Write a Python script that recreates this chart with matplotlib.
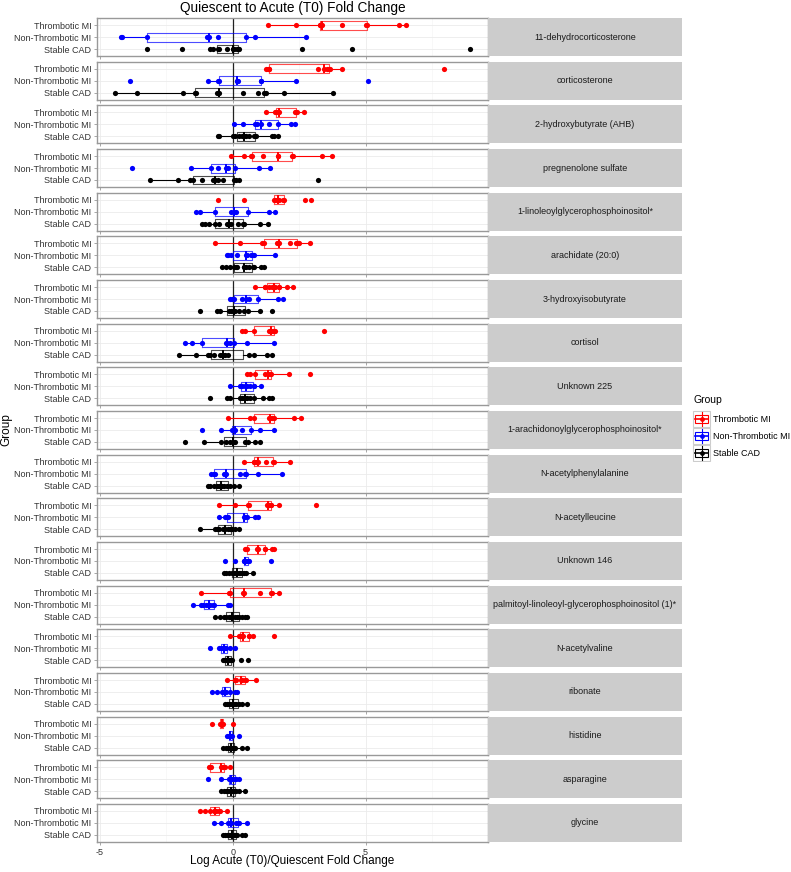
import matplotlib
matplotlib.use("Agg")
import matplotlib.pyplot as plt
from matplotlib.patches import Rectangle

plt.rcParams['font.family'] = ['Liberation Sans', 'DejaVu Sans']

groups = ["Thrombotic MI", "Non-Thrombotic MI", "Stable CAD"]
group_colors = ["#FF0000", "#0000FF", "#000000"]

metabolites = [
    "11-dehydrocorticosterone", "corticosterone", "2-hydroxybutyrate (AHB)",
    "pregnenolone sulfate", "1-linoleoylglycerophosphoinositol*",
    "arachidate (20:0)", "3-hydroxyisobutyrate", "cortisol", "Unknown 225",
    "1-arachidonoylglycerophosphoinositol*", "N-acetylphenylalanine",
    "N-acetylleucine", "Unknown 146",
    "palmitoyl-linoleoyl-glycerophosphoinositol (1)*", "N-acetylvaline",
    "ribonate", "histidine", "asparagine", "glycine",
]

# log fold change values, one list per metabolite
thrombotic = [
    [1.33, 2.38, 3.28, 3.3, 3.34, 3.36, 4.1, 5.03, 5.06, 6.26, 6.5],
    [1.24, 1.33, 1.35, 1.38, 3.21, 3.44, 3.54, 3.62, 3.66, 4.1, 7.94],
    [1.25, 1.6, 1.64, 1.7, 1.73, 2.35, 2.39, 2.42, 2.7],
    [-0.05, 0.41, 0.7, 0.72, 1.14, 1.7, 1.72, 2.22, 2.25, 3.35, 3.74],
    [-0.55, 0.44, 1.56, 1.6, 1.66, 1.73, 1.91, 1.94, 2.73, 2.95],
    [-0.68, 0.28, 1.1, 1.19, 1.66, 1.72, 1.75, 2.15, 2.4, 2.45, 2.51, 2.9],
    [0.83, 1.2, 1.23, 1.35, 1.48, 1.54, 1.61, 1.73, 1.76, 2.06, 2.26],
    [0.36, 0.48, 0.81, 1.35, 1.44, 1.51, 1.56, 1.6, 3.44],
    [0.55, 0.64, 0.85, 1.23, 1.33, 1.39, 1.44, 2.1, 2.91],
    [-0.19, 0.66, 0.79, 1.35, 1.41, 1.48, 1.56, 2.29, 2.58],
    [0.41, 0.79, 0.81, 0.88, 0.94, 1.26, 1.52, 1.54, 2.16],
    [-0.53, 0.1, 0.58, 0.62, 1.29, 1.35, 1.44, 1.46, 1.73, 3.13],
    [0.48, 0.5, 0.54, 0.93, 0.95, 1.2, 1.23, 1.48, 1.56],
    [-1.18, -0.15, -0.09, 0.38, 0.41, 1.04, 1.46, 1.48, 1.73],
    [-0.09, 0.25, 0.29, 0.31, 0.38, 0.6, 0.63, 0.76, 1.56],
    [-0.21, 0.08, 0.1, 0.13, 0.31, 0.35, 0.48, 0.5, 0.89],
    [-0.76, -0.46, -0.4, -0.36, 0.0],
    [-0.9, -0.85, -0.82, -0.43, -0.36, -0.28, -0.09],
    [-1.21, -1.03, -0.84, -0.71, -0.68, -0.63, -0.53, -0.46, -0.21],
]

non_thrombotic = [
    [-4.2, -4.15, -3.21, -0.95, -0.9, -0.54, 0.5, 0.84, 2.74],
    [-3.85, -0.91, -0.55, -0.51, 0.15, 0.18, 0.2, 1.05, 1.08, 2.38, 5.09],
    [0.06, 0.39, 0.85, 0.9, 1.06, 1.35, 1.69, 2.2, 2.35],
    [-3.78, -1.56, -0.81, -0.56, -0.25, -0.19, 0.1, 1.0, 1.41],
    [-1.36, -1.23, -0.68, -0.05, 0.04, 0.13, 0.56, 1.38, 1.6],
    [-0.21, -0.16, -0.05, 0.16, 0.49, 0.55, 0.69, 0.75, 0.79, 1.61],
    [-0.09, -0.03, 0.04, 0.36, 0.49, 0.63, 0.94, 1.7, 1.89],
    [-1.8, -1.51, -1.16, -0.26, -0.21, -0.09, 0.04, 0.53, 1.54],
    [-0.11, 0.29, 0.31, 0.36, 0.45, 0.55, 0.66, 0.79, 0.81, 1.06],
    [-1.15, -0.44, -0.03, 0.04, 0.1, 0.35, 0.69, 1.04, 1.56],
    [-0.8, -0.72, -0.7, -0.68, -0.31, -0.28, -0.25, 0.26, 0.48, 0.5, 0.95, 1.85],
    [-0.53, -0.28, -0.21, -0.18, 0.41, 0.48, 0.54, 0.85, 0.95],
    [-0.28, 0.08, 0.41, 0.43, 0.48, 0.51, 0.56, 0.6, 1.45],
    [-1.5, -1.18, -1.11, -1.0, -0.94, -0.86, -0.75, -0.71, -0.19, -0.09],
    [-0.86, -0.53, -0.43, -0.36, -0.3, -0.24, -0.09, 0.08],
    [-0.78, -0.59, -0.4, -0.36, -0.28, -0.24, -0.09, 0.1, 0.16],
    [-0.21, -0.15, -0.11, -0.06, -0.03, 0.25],
    [-0.94, -0.44, -0.15, -0.09, -0.05, 0.0, 0.08, 0.14, 0.23],
    [-0.69, -0.44, -0.18, -0.15, -0.11, -0.05, 0.13, 0.2, 0.25, 0.54],
]

stable_cad = [
    [-3.23, -1.89, -0.86, -0.75, -0.55, -0.5, -0.2, 0.0, 0.02, 0.04, 0.18, 0.2, 0.25, 2.59, 4.49, 8.94],
    [-4.43, -3.61, -1.86, -1.41, -1.375, -0.575, -0.525, 0.39, 0.95, 1.19, 1.25, 1.93, 3.79],
    [-0.56, -0.5, 0.0, 0.1, 0.25, 0.35, 0.42, 0.44, 0.5, 0.62, 0.82, 0.89, 1.48, 1.56, 1.7],
    [-3.1, -2.04, -1.6, -1.49, -1.14, -0.75, -0.65, -0.56, -0.36, 0.05, 0.14, 0.24, 3.19],
    [-1.15, -1.03, -0.9, -0.68, -0.53, -0.21, -0.13, -0.05, 0.19, 0.38, 0.42, 1.01, 1.33],
    [-0.4, -0.26, -0.11, 0.04, 0.13, 0.15, 0.41, 0.44, 0.5, 0.6, 0.75, 0.79, 1.08, 1.16],
    [-1.24, -0.59, -0.46, -0.12, -0.06, 0.0, 0.08, 0.24, 0.41, 0.56, 1.04, 1.48],
    [-2.0, -1.38, -0.94, -0.84, -0.71, -0.46, -0.4, -0.36, -0.28, -0.19, 0.6, 0.81, 1.29, 1.48],
    [-0.86, -0.21, -0.11, 0.29, 0.35, 0.41, 0.48, 0.54, 0.66, 0.79, 1.13, 1.35, 1.48],
    [-1.78, -1.08, -0.43, -0.24, -0.09, 0.0, 0.1, 0.48, 0.56, 0.84, 1.04],
    [-0.93, -0.84, -0.71, -0.59, -0.53, -0.46, -0.4, -0.31, -0.21, -0.09, 0.04, 0.25],
    [-1.24, -0.68, -0.59, -0.5, -0.36, -0.28, -0.19, -0.11, -0.03, 0.1, 0.25],
    [-0.34, -0.25, -0.15, -0.03, 0.04, 0.1, 0.16, 0.23, 0.29, 0.35, 0.44, 0.5, 0.76],
    [-0.65, -0.46, -0.34, -0.25, -0.15, -0.09, -0.03, 0.1, 0.16, 0.23, 0.35, 0.45, 0.54],
    [-0.36, -0.31, -0.28, -0.24, -0.19, -0.15, -0.09, -0.03, 0.31, 0.56],
    [-0.28, -0.21, -0.15, -0.09, -0.03, 0.01, 0.08, 0.14, 0.23, 0.35, 0.54],
    [-0.36, -0.25, -0.19, -0.15, -0.11, -0.08, -0.05, 0.0, 0.04, 0.1, 0.35, 0.54],
    [-0.44, -0.34, -0.25, -0.18, -0.11, -0.06, -0.03, 0.01, 0.06, 0.13, 0.23, 0.48],
    [-0.36, -0.28, -0.21, -0.15, -0.1, -0.05, -0.03, 0.04, 0.1, 0.16, 0.35, 0.48],
]

W, H = 791, 872
fig = plt.figure(figsize=(W / 100, H / 100), dpi=100)

# layout in pixels
x0, x1, x2 = 97, 488, 682
top, bottom, gap = 18, 842, 5.5
n = len(metabolites)
ph = (bottom - top - gap * (n - 1)) / n
text_col = "#333333"
border = "#999999"

for i, name in enumerate(metabolites):
    yt = top + i * (ph + gap)
    ax = fig.add_axes([x0 / W, 1 - (yt + ph) / H, (x1 - x0) / W, ph / H])
    ax.set_xlim(-5.1, 9.6)
    ax.set_ylim(0.4, 3.6)
    ax.set_xticks([-5, 0, 5])
    ax.set_xticks([-2.5, 2.5, 7.5], minor=True)
    ax.set_yticks([3, 2, 1])
    ax.set_yticklabels(groups)
    ax.grid(True, which="major", color="#EBEBEB", lw=0.6)
    ax.grid(True, which="minor", axis="x", color="#F5F5F5", lw=0.5)
    ax.set_axisbelow(True)
    ax.axvline(0, color="#222222", lw=0.9, zorder=1)
    for s in ax.spines.values():
        s.set_color(border)
        s.set_linewidth(1.0)
    ax.tick_params(axis="both", which="major", length=2.5, width=0.6,
                   color=border, labelsize=6.5, labelcolor=text_col, pad=1.5)
    ax.tick_params(axis="both", which="minor", length=0)
    if i < n - 1:
        ax.tick_params(axis="x", labelbottom=False)
    else:
        ax.set_xticklabels(["-5", "0", "5"])

    series = [thrombotic[i], non_thrombotic[i], stable_cad[i]]
    for vals, pos, col in zip(series, [3, 2, 1], group_colors):
        ax.boxplot([vals], positions=[pos], orientation="horizontal", widths=0.75,
                   showfliers=False, showcaps=False, whis=1.5, manage_ticks=False,
                   boxprops=dict(color=col, lw=0.8, alpha=0.7),
                   whiskerprops=dict(color=col, lw=0.8),
                   medianprops=dict(color=col, lw=1.4))
        ax.scatter(vals, [pos] * len(vals), s=14, color=col, zorder=3, linewidths=0)

    sax = fig.add_axes([x1 / W, 1 - (yt + ph) / H, (x2 - x1) / W, ph / H])
    sax.set_facecolor("#CCCCCC")
    sax.set_xticks([])
    sax.set_yticks([])
    for s in sax.spines.values():
        s.set_visible(False)
    sax.text(0.5, 0.5, name, ha="center", va="center", fontsize=6.5, color="#1A1A1A")

fig.text((x0 + x1) / 2 / W, 1 - 8 / H, "Quiescent to Acute (T0) Fold Change",
         ha="center", va="center", fontsize=9.8, color="#000000")
fig.text((x0 + x1) / 2 / W, 1 - 861 / H, "Log Acute (T0)/Quiescent Fold Change",
         ha="center", va="center", fontsize=8.5, color="#000000")
fig.text(6 / W, 1 - 430 / H, "Group", ha="center", va="center", rotation=90,
         fontsize=8.5, color="#000000")

# legend drawn in its own small axes
lx, ly, lw_, lh = 690, 392, 100, 70
lax = fig.add_axes([lx / W, 1 - (ly + lh) / H, lw_ / W, lh / H])
lax.set_xlim(0, lw_)
lax.set_ylim(lh, 0)
lax.axis("off")
lax.text(3, 8, "Group", fontsize=7.5, va="center", ha="left")
for k, (g, col) in enumerate(zip(groups, group_colors)):
    cy = 27 + k * 17
    lax.add_patch(Rectangle((3, cy - 8), 17, 16, facecolor="white", edgecolor="#CCCCCC", lw=0.8))
    lax.plot([11.5, 11.5], [cy - 7, cy + 7], color=col, lw=0.8)
    lax.add_patch(Rectangle((5, cy - 4), 13, 8, facecolor="white", edgecolor=col, lw=0.8))
    lax.plot([5, 18], [cy, cy], color=col, lw=1.2)
    lax.scatter([11.5], [cy], s=12, color=col, zorder=3, linewidths=0)
    lax.text(23, cy, g, fontsize=6.5, va="center", ha="left", color="#000000")

fig.savefig("out.png", dpi=100)
